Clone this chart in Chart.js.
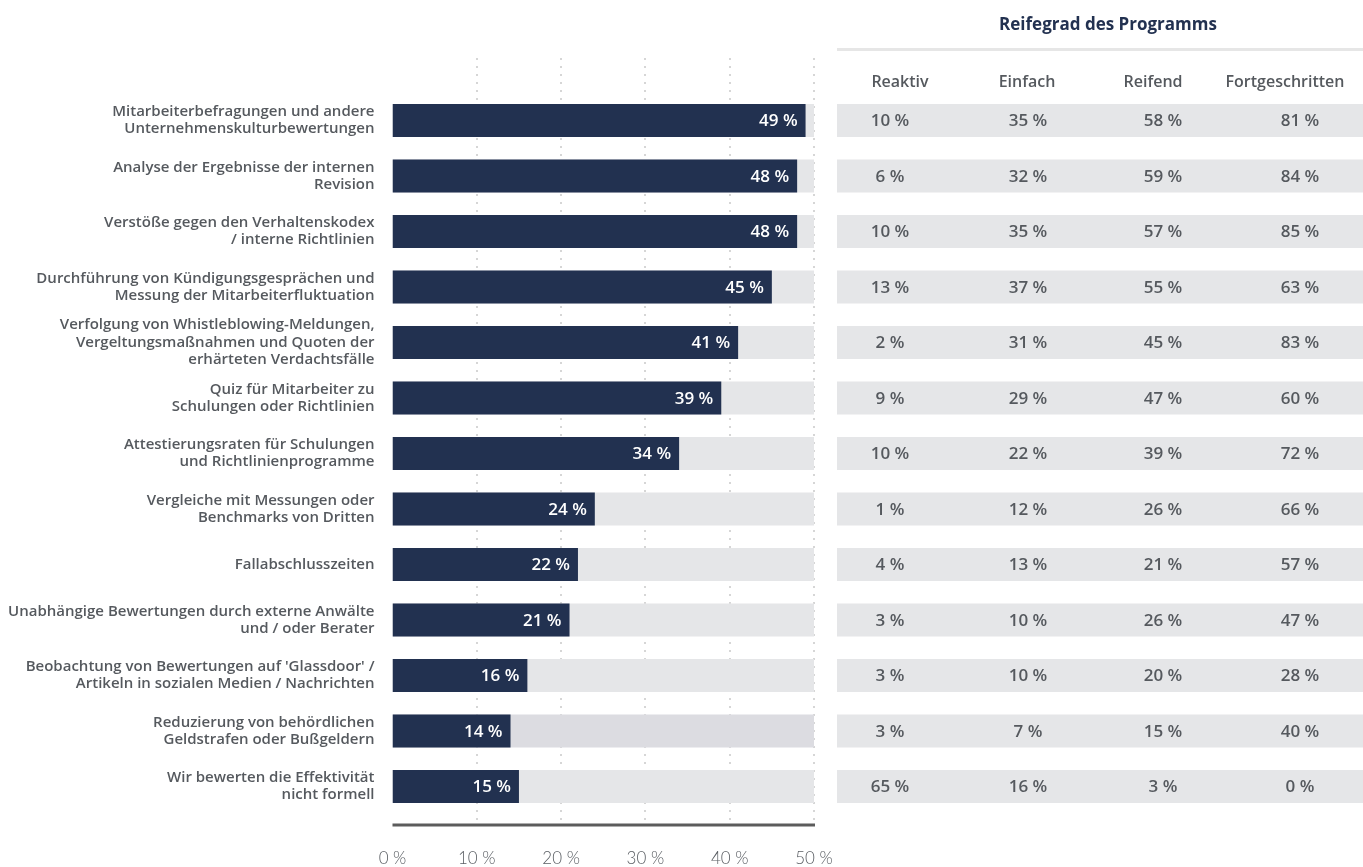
<!DOCTYPE html>
<html>
<head>
<meta charset="utf-8">
<script src="https://cdn.jsdelivr.net/npm/chart.js@4.4.1/dist/chart.umd.min.js"></script>
<style>
  html,body{margin:0;padding:0;background:#fff;}
  #wrap{width:1363px;height:867px;position:relative;}
</style>
</head>
<body>
<div id="wrap"><canvas id="chart"></canvas></div>
<script>
// data
const categories = [
  ['Mitarbeiterbefragungen und andere','Unternehmenskulturbewertungen'],
  ['Analyse der Ergebnisse der internen','Revision'],
  ['Verstöße gegen den Verhaltenskodex','/ interne Richtlinien'],
  ['Durchführung von Kündigungsgesprächen und','Messung der Mitarbeiterfluktuation'],
  ['Verfolgung von Whistleblowing-Meldungen,','Vergeltungsmaßnahmen und Quoten der','erhärteten Verdachtsfälle'],
  ['Quiz für Mitarbeiter zu','Schulungen oder Richtlinien'],
  ['Attestierungsraten für Schulungen','und Richtlinienprogramme'],
  ['Vergleiche mit Messungen oder','Benchmarks von Dritten'],
  'Fallabschlusszeiten',
  ['Unabhängige Bewertungen durch externe Anwälte','und / oder Berater'],
  ["Beobachtung von Bewertungen auf 'Glassdoor' /","Artikeln in sozialen Medien / Nachrichten"],
  ['Reduzierung von behördlichen','Geldstrafen oder Bußgeldern'],
  ['Wir bewerten die Effektivität','nicht formell']
];
const totalValues = [49,48,48,45,41,39,34,24,22,21,16,14,15];
const maxValues   = [50,50,50,50,50,50,50,50,50,50,50,50,50];

const tableTitle   = 'Reifegrad des Programms';
const tableColumns = ['Reaktiv','Einfach','Reifend','Fortgeschritten'];
const reaktiv         = [10,6,10,13,2,9,10,1,4,3,3,3,65];
const einfach         = [35,32,35,37,31,29,22,12,13,10,10,7,16];
const reifend         = [58,59,57,55,45,47,39,26,21,26,20,15,3];
const fortgeschritten = [81,84,85,63,83,60,72,66,57,47,28,40,0];
const tableSeries = [reaktiv, einfach, reifend, fortgeschritten];

const xTicks = [0,10,20,30,40,50];

const NAVY = '#223150';
const GREY = '#e5e6e8';
const TEXT = '#55595e';
const FONT = '"Open Sans"';

// column centres of the right hand table
const colHeadX = [900,1027,1153,1285];
const colValX  = [890,1028,1163,1300];

const pct = v => v + ' %';

// dotted grid + bottom axis line, reaching past the bar rows like the original
const gridPlugin = {
  id:'gridLines',
  beforeDatasetsDraw(chart){
    const {ctx, scales:{x}} = chart;
    ctx.save();
    ctx.strokeStyle = '#d6d6d6';
    ctx.lineWidth = 2;
    ctx.setLineDash([2,6]);
    xTicks.slice(1).forEach(t=>{
      const px = Math.round(x.getPixelForValue(t));
      ctx.beginPath();
      ctx.moveTo(px, 58);
      ctx.lineTo(px, 822);
      ctx.stroke();
    });
    ctx.setLineDash([]);
    ctx.strokeStyle = '#5c5c5c';
    ctx.lineWidth = 3;
    ctx.beginPath();
    ctx.moveTo(x.getPixelForValue(0), 825);
    ctx.lineTo(x.getPixelForValue(50)+1, 825);
    ctx.stroke();
    ctx.restore();
  }
};

// value labels inside bars + the maturity table on the right
const tablePlugin = {
  id:'table',
  afterDatasetsDraw(chart){
    const {ctx} = chart;
    const bgMeta = chart.getDatasetMeta(0);
    const valMeta = chart.getDatasetMeta(1);
    ctx.save();

    // labels inside the navy bars
    ctx.fillStyle = '#fff';
    ctx.font = '600 17px ' + FONT;
    ctx.textAlign = 'right';
    ctx.textBaseline = 'middle';
    valMeta.data.forEach((bar,i)=>{
      ctx.fillText(pct(totalValues[i]), bar.x - 8, bar.y + 1);
    });

    // table rows
    bgMeta.data.forEach((bar,i)=>{
      ctx.fillStyle = GREY;
      ctx.fillRect(837, bar.y - bar.height/2, 1363-837, bar.height);
      ctx.fillStyle = TEXT;
      ctx.font = '600 17px ' + FONT;
      ctx.textAlign = 'center';
      tableSeries.forEach((s,c)=>{
        ctx.fillText(pct(s[i]), colValX[c], bar.y + 1);
      });
    });

    // header
    ctx.fillStyle = NAVY;
    ctx.font = '700 17px ' + FONT;
    ctx.textAlign = 'center';
    ctx.fillText(tableTitle, 1108, 25);
    ctx.fillStyle = '#e6e6e6';
    ctx.fillRect(837, 48, 1363-837, 3);
    ctx.fillStyle = TEXT;
    ctx.font = '600 16px ' + FONT;
    tableColumns.forEach((c,i)=>ctx.fillText(c, colHeadX[i], 82));
    ctx.restore();
  }
};

new Chart(document.getElementById('chart'), {
  type:'bar',
  data:{
    labels: categories,
    datasets:[
      {
        label:'max',
        data: maxValues,
        backgroundColor: maxValues.map((v,i)=> i===11 ? '#dcdce1' : GREY),
        grouped:false,
        order:2,
        barPercentage:0.595,
        categoryPercentage:1
      },
      {
        label:'Gesamt',
        data: totalValues,
        backgroundColor: NAVY,
        grouped:false,
        order:1,
        barPercentage:0.595,
        categoryPercentage:1
      }
    ]
  },
  options:{
    indexAxis:'y',
    responsive:true,
    maintainAspectRatio:false,
    animation:false,
    layout:{ padding:{ left:0, right:549, top:92.75, bottom:0 } },
    plugins:{ legend:{display:false}, tooltip:{enabled:false} },
    scales:{
      x:{
        min:0, max:50,
        grid:{ display:false },
        border:{ display:false },
        ticks:{
          stepSize:10,
          callback: v => pct(v),
          color:'#5a5e63',
          padding:26,
          font:{ family:'Lato', size:17, weight:'300' }
        },
        afterFit(s){ s.height = 52.75; }
      },
      y:{
        grid:{ display:false },
        border:{ display:false },
        ticks:{
          autoSkip:false,
          color:TEXT,
          padding:10,
          font:{ family:FONT, size:15, weight:'600', lineHeight:1.16 }
        },
        afterFit(s){ s.width = 392.5; }
      }
    }
  },
  plugins:[gridPlugin, tablePlugin]
});
</script>
</body>
</html>
